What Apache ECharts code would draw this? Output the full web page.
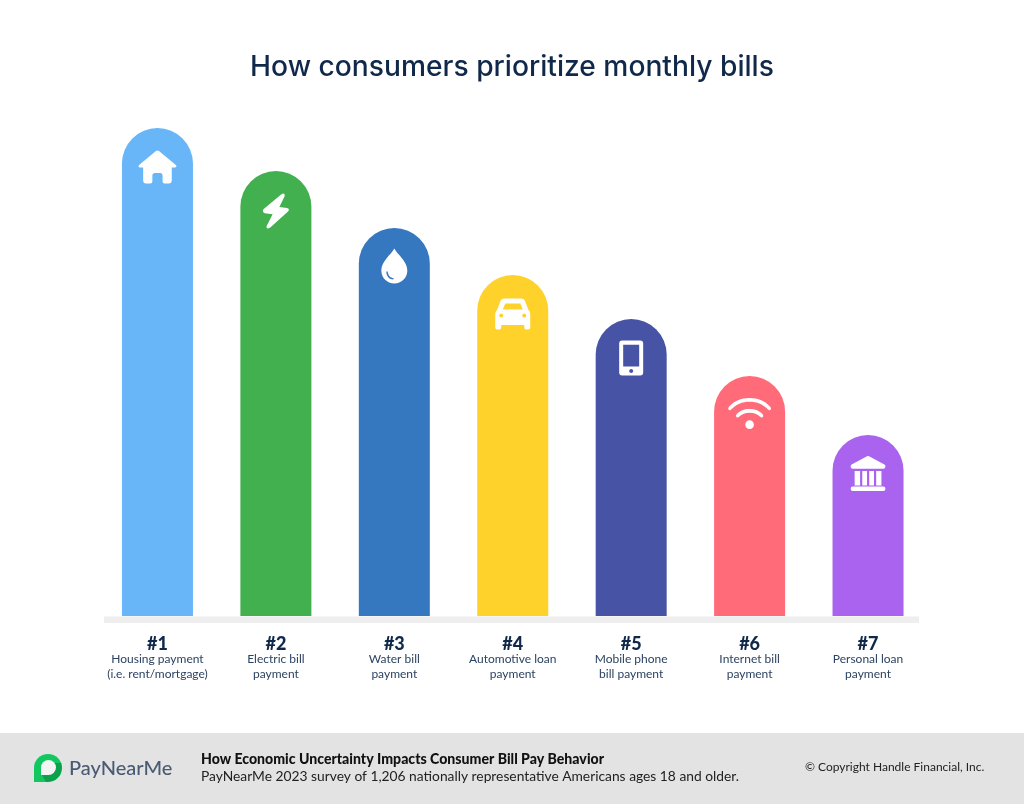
<!DOCTYPE html>
<html>
<head>
<meta charset="utf-8">
<style>html,body{margin:0;padding:0;background:#fff}#c{width:1024px;height:804px}</style>
<script src="https://cdn.jsdelivr.net/npm/echarts@6/dist/echarts.min.js"></script>
</head>
<body>
<div id="c"></div>
<script>
const ranks = ['#1','#2','#3','#4','#5','#6','#7'];
const line1 = ['Housing payment','Electric bill','Water bill','Automotive loan','Mobile phone','Internet bill','Personal loan'];
const line2 = ['(i.e. rent/mortgage)','payment','payment','payment','bill payment','payment','payment'];
const values = [488,445,388,341,297,240,181];
const colors = ['#68b6f8','#42b04f','#3678bf','#ffd12b','#4753a4','#ff6b78','#a963ee'];

const iconPaths = [
 'path://M17.5 .8 Q19 -.4 20.5 .8 L37 14.5 Q38.6 16.5 36 17 L33 17 L33 30 Q33 33 30 33 L26 33 Q24 33 24 31 L24 25 Q24 22.5 22 22.5 L16 22.5 Q14 22.5 14 25 L14 31 Q14 33 12 33 L8 33 Q5 33 5 30 L5 17 L2 17 Q-.6 16.5 1 14.5 Z',
 'path://M18.5 .8 Q22 -1.2 21.8 2.5 L16.5 13.6 L24 14.6 Q27 15.5 25.3 17.6 L7.5 33.8 Q3.5 36.4 3.8 32.5 L9.8 20.6 L2 19.6 Q-.8 18.6 .7 15.8 Z',
 'path://M13 0 C16 6 26 12.5 26 22 C26 29.5 20 35 13 35 C6 35 0 29.5 0 22 C0 12.5 10 6 13 0 Z M5 23 C5 27.5 8 31 12 31 L12.3 29.6 C9 29.4 6.6 26.8 6.4 23 Z',
 'path://M9 0 L26 0 Q29 0 30 3 L33 11 Q35 13 35 16 L35 29 Q35 31 33 31 L31 31 Q29 31 29 29 L29 26.5 L6 26.5 L6 29 Q6 31 4 31 L2 31 Q0 31 0 29 L0 16 Q0 13 2 11 L5 3 Q6 0 9 0 Z M10 5 L7.5 11 L27.5 11 L25 5 Z M4 17 C4 18 5 19 6 19 C7 19 8 18 8 17 C8 16 7 15 6 15 C5 15 4 16 4 17 Z M27 17 C27 18 28 19 29 19 C30 19 31 18 31 17 C31 16 30 15 29 15 C28 15 27 16 27 17 Z',
 'path://M3 0 L21 0 Q24 0 24 3 L24 32 Q24 35 21 35 L3 35 Q0 35 0 32 L0 3 Q0 0 3 0 Z M4 4.3 L4 26 L20 26 L20 4.3 Z M10 30.4 C10 31.5 11 32.4 12 32.4 C13 32.4 14 31.5 14 30.4 C14 29.3 13 28.4 12 28.4 C11 28.4 10 29.3 10 30.4 Z',
 'path://M.8 9 C6 3 13 0 21.5 0 C30 0 37 3 42.2 9 Q43.6 10.8 42 12 Q40.8 12.6 39.8 11.5 C35 6 29 3.6 21.5 3.6 C14 3.6 8 6 3.2 11.5 Q2.2 12.6 1 12 Q-.6 10.8 .8 9 Z M8.4 16.4 C12 12.6 16 11 21.5 11 C27 11 31 12.6 34.6 16.4 Q35.8 18 34.4 19 Q33.2 19.8 32 18.6 C29 15.8 26 14.6 21.5 14.6 C17 14.6 14 15.8 11 18.6 Q9.8 19.8 8.6 19 Q7.2 18 8.4 16.4 Z M17.2 26.4 C17.2 28.8 19.1 30.7 21.5 30.7 C23.9 30.7 25.8 28.8 25.8 26.4 C25.8 24 23.9 22.1 21.5 22.1 C19.1 22.1 17.2 24 17.2 26.4 Z',
 'path://M16.5 .4 Q17.5 -.1 18.5 .4 L34 8.5 Q35.5 9.5 35 11 Q34.6 12.8 33 12.8 L2 12.8 Q.4 12.8 0 11 Q-.5 9.5 1 8.5 Z M4 15 L9.5 15 L9.5 29.5 L4 29.5 Z M11.7 15 L16.5 15 L16.5 29.5 L11.7 29.5 Z M18.7 15 L23.5 15 L23.5 29.5 L18.7 29.5 Z M25.7 15 L31 15 L31 29.5 L25.7 29.5 Z M2 30.5 L33 30.5 Q35 30.5 35 32.7 Q35 35 33 35 L2 35 Q0 35 0 32.7 Q0 30.5 2 30.5 Z'
];
const iconSizes = [[38,33],[26,35],[26,35],[35,31],[24,35],[43,31],[35,35]];
const iconOffsets = [39,40,38,39,39,37.5,38.5];

const SANS = 'Lato, "Open Sans", sans-serif';
const chart = echarts.init(document.getElementById('c'), null, {renderer:'canvas'});
chart.setOption({
  animation:false,
  backgroundColor:'#ffffff',
  title:{
    text:'How consumers prioritize monthly bills',
    left:'center', top:49,
    textStyle:{fontFamily:'Inter, sans-serif',fontSize:28.2,fontWeight:500,color:'#10294a'}
  },
  grid:{left:98.25,width:829,top:128,height:488},
  xAxis:{
    type:'category',
    data:ranks.map((r,i)=>`{a|${r}}\n{b|${line1[i]}}\n{b|${line2[i]}}`),
    axisLine:{show:false},axisTick:{show:false},
    axisLabel:{
      interval:0,margin:21,align:'center',
      rich:{
        a:{fontFamily:SANS,fontSize:18,fontWeight:900,color:'#10294a',lineHeight:15,align:'center'},
        b:{fontFamily:SANS,fontSize:12,color:'#2c4362',lineHeight:14.5,align:'center'}
      }
    }
  },
  yAxis:{type:'value',min:0,max:488,show:false},
  series:[
    {type:'bar',barWidth:71,
     data:values.map((v,i)=>({value:v,itemStyle:{color:colors[i],borderRadius:[35.5,35.5,0,0]}}))},
    {type:'scatter',z:5,silent:true,
     itemStyle:{color:'#ffffff',opacity:1},
     symbolKeepAspect:false,
     data:values.map((v,i)=>({value:[i,v],symbol:iconPaths[i],symbolSize:iconSizes[i],symbolOffset:[0,iconOffsets[i]]}))}
  ],
  graphic:[
    {type:'rect',shape:{x:104,y:616.5,width:815,height:6.5},style:{fill:'#eeeeee'},z:-1},
    {type:'rect',shape:{x:0,y:733,width:1024,height:71},style:{fill:'#e3e3e3'},z:-1},
    {type:'circle',shape:{cx:48,cy:768,r:14},style:{fill:'#12c75f'},z:1},
    {type:'rect',shape:{x:34,y:768,width:14,height:14},style:{fill:'#12c75f'},z:1},
    {type:'polygon',shape:{points:[[42,775],[54,763],[61,763],[61.9,768],[60.1,775],[55,780.1],[48,782],[46,782]]},style:{fill:'#0c9f4c'},z:2},
    {type:'circle',shape:{cx:48.5,cy:767.5,r:7.5},style:{fill:'#f4f4f4'},z:3},
    {type:'rect',shape:{x:41,y:767.5,width:7.5,height:7.5},style:{fill:'#f4f4f4'},z:3},
    {type:'text',x:69,y:768.5,style:{text:'PayNearMe',fontFamily:SANS,fontSize:20,fontWeight:500,fill:'#4a5a73',verticalAlign:'middle'},z:3},
    {type:'text',x:201,y:759.5,style:{text:'How Economic Uncertainty Impacts Consumer Bill Pay Behavior',fontFamily:SANS,fontSize:14.1,fontWeight:900,fill:'#111111',verticalAlign:'middle'},z:3},
    {type:'text',x:201,y:776.5,style:{text:'PayNearMe 2023 survey of 1,206 nationally representative Americans ages 18 and older.',fontFamily:SANS,fontSize:13.8,fill:'#222222',verticalAlign:'middle'},z:3},
    {type:'text',x:805,y:767.5,style:{text:'© Copyright Handle Financial, Inc.',fontFamily:SANS,fontSize:12,fill:'#222222',verticalAlign:'middle'},z:3}
  ]
});
</script>
</body>
</html>
